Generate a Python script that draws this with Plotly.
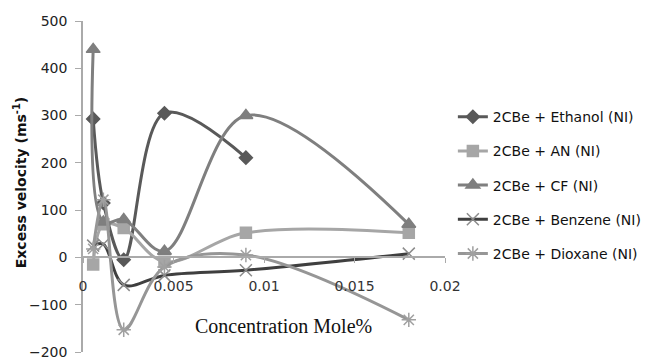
import plotly.graph_objects as go

conc = [0.0005625, 0.001125, 0.00225, 0.0045, 0.009, 0.018]
ethanol = [293, 115, -5, 305, 211]
an = [-15, 70, 62, -9, 52, 52]
cf = [440, 75, 80, 13, 300, 70]
benzene = [25, 28, -58, -38, -27, 8]
dioxane = [18, 122, -153, -20, 5, -132]

x_ticks = [0, 0.005, 0.01, 0.015, 0.02]
x_tick_text = ["0", "0.005", "0.01", "0.015", "0.02"]
y_ticks = [-200, -100, 0, 100, 200, 300, 400, 500]

series = [
    ("2CBe + Ethanol (NI)", ethanol, "#595959", "#595959", "diamond", 10, 3),
    ("2CBe + AN (NI)", an, "#a6a6a6", "#a6a6a6", "square", 11, 3),
    ("2CBe + CF (NI)", cf, "#7f7f7f", "#7f7f7f", "triangle-up", 12, 3),
    ("2CBe + Benzene (NI)", benzene, "#3f3f3f", "#8c8c8c", "x-thin", 12, 3),
    ("2CBe + Dioxane (NI)", dioxane, "#969696", "#a0a0a0", "asterisk", 12, 3),
]

fig = go.Figure()
for i, (name, ys, lc, mc, sym, ms, lw) in enumerate(series):
    fig.add_trace(go.Scatter(
        x=conc[:len(ys)], y=ys, name=name, mode="lines+markers",
        line=dict(color=lc, width=lw, shape="spline", smoothing=1.0),
        marker=dict(symbol=sym, size=ms, color=mc,
                    line=dict(color=mc, width=1.5)),
        legendgroup="g%d" % i,
    ))

fig.update_layout(
    width=647, height=352,
    margin=dict(l=75, r=204, t=13, b=8),
    plot_bgcolor="white", paper_bgcolor="white",
    font=dict(family="DejaVu Sans, sans-serif", size=14, color="#222"),
    legend=dict(x=1 + 8 / 368, y=0.758, xanchor="left", yanchor="top",
                traceorder="grouped", tracegroupgap=13,
                font=dict(size=14, color="#111")),
    xaxis=dict(range=[0, 0.02], tickvals=x_ticks, ticktext=x_tick_text,
               showgrid=False, zeroline=False, showline=True,
               linecolor="#aaaaaa", linewidth=1.5, ticks="outside",
               ticklen=5, tickcolor="#aaaaaa", automargin=False,
               anchor="free", position=200 / 700, ticklabelstandoff=11,
               tickfont=dict(size=14, color="#333")),
    yaxis=dict(range=[-200, 500], tickvals=y_ticks, showgrid=False,
               zeroline=False, showline=True, linecolor="#aaaaaa",
               linewidth=1.5, ticks="outside", ticklen=6, tickcolor="#aaaaaa",
               automargin=False, ticklabelstandoff=5,
               tickfont=dict(size=14, color="#222")),
    annotations=[
        dict(text="Concentration Mole%", x=0.0111, y=-146,
             xref="x", yref="y", showarrow=False,
             font=dict(family="Liberation Serif, Times New Roman, serif",
                       size=20, color="#111")),
        dict(text="<b>Excess velocity (ms<sup>-1</sup>)</b>",
             x=(19 - 83) / 368, y=0.51, xref="paper", yref="paper",
             xanchor="center", yanchor="middle",
             textangle=-90, showarrow=False,
             font=dict(family="DejaVu Sans, sans-serif", size=14, color="#111")),
    ],
)

fig.write_html("out.html")
